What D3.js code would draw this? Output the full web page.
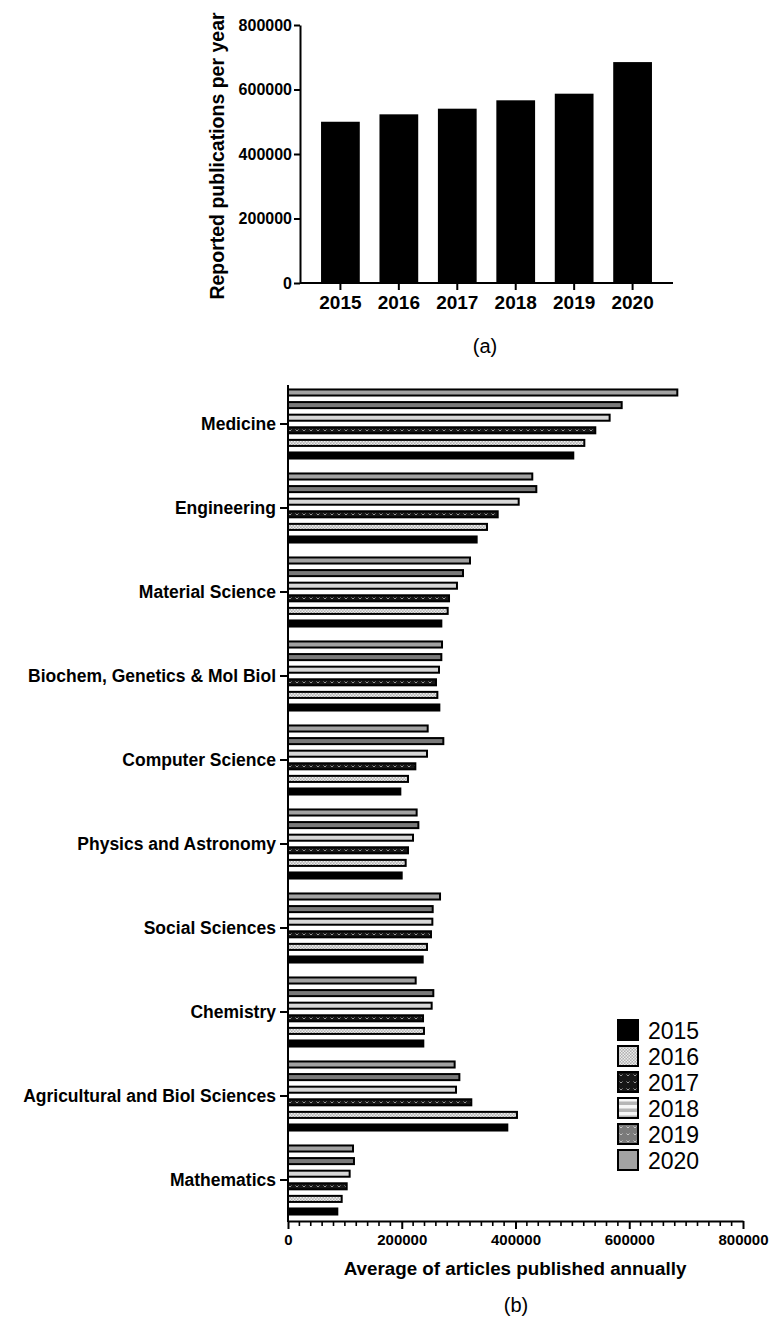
<!DOCTYPE html>
<html>
<head>
<meta charset="utf-8">
<script src="https://cdn.jsdelivr.net/npm/d3@7"></script>
<style>
  html, body { margin: 0; padding: 0; background: #fff; }
  svg { display: block; font-family: "Liberation Sans", Arial, Helvetica, sans-serif; }
</style>
</head>
<body>
<svg id="chart" width="776" height="1319"></svg>
<script>
// ---------- DATA ----------
const years = ["2015", "2016", "2017", "2018", "2019", "2020"];
const totalsPerYear = [500000, 523000, 540500, 566500, 587000, 685000];
const topTicks = [0, 200000, 400000, 600000, 800000];

const categories = [
  "Medicine", "Engineering", "Material Science", "Biochem, Genetics & Mol Biol",
  "Computer Science", "Physics and Astronomy", "Social Sciences", "Chemistry",
  "Agricultural and Biol Sciences", "Mathematics"
];
const v2015 = [501600, 331700, 269600, 266100, 197500, 199900, 236800, 237900, 385600, 86700];
const v2016 = [521000, 349900, 280800, 262600, 211000, 206900, 244400, 239100, 402600, 94400];
const v2017 = [540300, 368700, 283100, 260200, 223900, 211000, 251400, 237400, 322300, 103200];
const v2018 = [565500, 405600, 297100, 265500, 244400, 219800, 253800, 252600, 295400, 108400];
const v2019 = [586700, 436600, 307700, 269600, 273100, 229200, 254400, 255500, 301300, 116000];
const v2020 = [684500, 429500, 320000, 270800, 245600, 226200, 267300, 224500, 293000, 114300];
const bottomTicks = [0, 200000, 400000, 600000, 800000];

const seriesByYear = [v2015, v2016, v2017, v2018, v2019, v2020];

// ---------- SETUP ----------
const svg = d3.select("#chart");
const defs = svg.append("defs");

// patterns
const p16 = defs.append("pattern").attr("id", "p2016").attr("patternUnits", "userSpaceOnUse").attr("width", 3).attr("height", 3);
p16.append("rect").attr("width", 3).attr("height", 3).attr("fill", "#b0b0b0");
p16.append("rect").attr("width", 1.5).attr("height", 1.5).attr("fill", "#eeeeee");
p16.append("rect").attr("x", 1.5).attr("y", 1.5).attr("width", 1.5).attr("height", 1.5).attr("fill", "#eeeeee");

const p17 = defs.append("pattern").attr("id", "p2017").attr("patternUnits", "userSpaceOnUse").attr("width", 7).attr("height", 7);
p17.append("rect").attr("width", 7).attr("height", 7).attr("fill", "#161616");
p17.append("path").attr("d", "M1.5,2.5 l1.5,1.5 l1.5,-1.5").attr("fill", "none").attr("stroke", "#9a9a9a").attr("stroke-width", 1);

const p18 = defs.append("pattern").attr("id", "p2018").attr("patternUnits", "userSpaceOnUse").attr("width", 7).attr("height", 7);
p18.append("rect").attr("width", 7).attr("height", 7).attr("fill", "#f6f6f6");
p18.append("rect").attr("y", 3.5).attr("width", 7).attr("height", 3.5).attr("fill", "#b5b5b5");

const p19 = defs.append("pattern").attr("id", "p2019").attr("patternUnits", "userSpaceOnUse").attr("width", 7).attr("height", 7);
p19.append("rect").attr("width", 7).attr("height", 7).attr("fill", "#7a7a7a");
p19.append("path").attr("d", "M1.5,2.5 l1.5,1.5 l1.5,-1.5").attr("fill", "none").attr("stroke", "#c8c8c8").attr("stroke-width", 1);

const barFills = ["#000000", "url(#p2016)", "url(#p2017)", "#d8d8d8", "url(#p2019)", "#a2a2a2"];
const legendFills = ["#000000", "url(#p2016)", "url(#p2017)", "url(#p2018)", "url(#p2019)", "#a2a2a2"];

// ---------- TOP CHART (a) ----------
const xTop = d3.scaleBand().domain(years).range([300, 673]).paddingInner(0.337).paddingOuter(0.36);
const yTop = d3.scaleLinear().domain([0, 800000]).range([283, 25]);

const gTop = svg.append("g");
gTop.selectAll("rect.tb").data(years).enter().append("rect")
  .attr("class", "tb")
  .attr("x", d => xTop(d))
  .attr("width", xTop.bandwidth())
  .attr("y", (d, i) => yTop(totalsPerYear[i]))
  .attr("height", (d, i) => yTop(0) - yTop(totalsPerYear[i]))
  .attr("fill", "#000");

const yAxisTop = gTop.append("g").attr("transform", "translate(300,0)")
  .call(d3.axisLeft(yTop).tickValues(topTicks).tickFormat(d3.format("d")).tickSize(6).tickSizeOuter(0));
const xAxisTop = gTop.append("g").attr("transform", "translate(0,283)")
  .call(d3.axisBottom(xTop).tickSize(7).tickSizeOuter(0));
[yAxisTop, xAxisTop].forEach(a => {
  a.select(".domain").attr("stroke", "#000").attr("stroke-width", 2);
  a.selectAll(".tick line").attr("stroke", "#000").attr("stroke-width", 2);
  a.selectAll("text").attr("fill", "#000").attr("font-weight", "bold")
    .attr("font-family", "Liberation Sans, Arial, sans-serif");
});
yAxisTop.selectAll("text").attr("font-size", 16).attr("x", -8);
xAxisTop.selectAll("text").attr("font-size", 19).attr("y", 13);
xAxisTop.select(".domain").attr("d", "M300,0H673");

gTop.append("text")
  .attr("transform", "translate(224,156) rotate(-90)")
  .attr("text-anchor", "middle")
  .attr("font-size", 19.5).attr("font-weight", "bold")
  .text("Reported publications per year");

svg.append("text").attr("x", 485).attr("y", 353).attr("text-anchor", "middle")
  .attr("font-size", 20).text("(a)");

// ---------- BOTTOM CHART (b) ----------
const xB = d3.scaleLinear().domain([0, 800000]).range([288, 743]);
const yCat = d3.scaleBand().domain(categories).range([382, 1222]);
const yearOrder = years.slice().reverse(); // 2020 on top
const yYear = d3.scaleBand().domain(yearOrder).range([0, 75.6]).paddingInner(0.52).paddingOuter(0.26);
const groupOffset = (yCat.bandwidth() - 75.6) / 2;

const gB = svg.append("g");
const rows = [];
categories.forEach((c, ci) => {
  years.forEach((yr, yi) => rows.push({ cat: c, year: yr, yi: yi, value: seriesByYear[yi][ci] }));
});

gB.selectAll("rect.hb").data(rows).enter().append("rect")
  .attr("class", "hb")
  .attr("x", xB(0))
  .attr("y", d => yCat(d.cat) + groupOffset + yYear(d.year))
  .attr("width", d => xB(d.value) - xB(0))
  .attr("height", yYear.bandwidth())
  .attr("fill", d => barFills[d.yi])
  .attr("stroke", "#000")
  .attr("stroke-width", 2);

// y axis (categories)
const yAxisB = gB.append("g").attr("transform", "translate(288,0)")
  .call(d3.axisLeft(yCat).tickSize(8).tickSizeOuter(0));
yAxisB.select(".domain").attr("stroke", "#000").attr("stroke-width", 2).attr("d", "M0,385V1222");
yAxisB.selectAll(".tick line").attr("stroke", "#000").attr("stroke-width", 2);
yAxisB.selectAll("text").attr("fill", "#000").attr("font-weight", "bold").attr("font-size", 17.5)
  .attr("x", -12).attr("font-family", "Liberation Sans, Arial, sans-serif");

// x axis minor ticks
const minorTicks = d3.range(0, 800001, 20000).filter(v => v % 200000 !== 0);
gB.append("g").selectAll("line").data(minorTicks).enter().append("line")
  .attr("x1", d => xB(d)).attr("x2", d => xB(d))
  .attr("y1", 1221).attr("y2", 1226)
  .attr("stroke", "#000").attr("stroke-width", 1.6);

const xAxisB = gB.append("g").attr("transform", "translate(0,1221)")
  .call(d3.axisBottom(xB).tickValues(bottomTicks).tickFormat(d3.format("d")).tickSize(8).tickSizeOuter(0));
xAxisB.select(".domain").attr("stroke", "#000").attr("stroke-width", 2);
xAxisB.selectAll(".tick line").attr("stroke", "#000").attr("stroke-width", 2);
xAxisB.selectAll("text").attr("fill", "#000").attr("font-weight", "bold").attr("font-size", 15)
  .attr("y", 13).attr("font-family", "Liberation Sans, Arial, sans-serif");

gB.append("text").attr("x", 515).attr("y", 1275).attr("text-anchor", "middle")
  .attr("font-size", 18.8).attr("font-weight", "bold")
  .text("Average of articles published annually");

svg.append("text").attr("x", 516).attr("y", 1312).attr("text-anchor", "middle")
  .attr("font-size", 20).text("(b)");

// legend
const legend = svg.append("g").attr("transform", "translate(618,1020)");
const lg = legend.selectAll("g").data(years).enter().append("g")
  .attr("transform", (d, i) => `translate(0,${i * 26})`);
lg.append("rect").attr("width", 20).attr("height", 20)
  .attr("fill", (d, i) => legendFills[i]).attr("stroke", "#000").attr("stroke-width", 2);
lg.append("text").attr("x", 30).attr("y", 18.5).attr("font-size", 23).text(d => d);
</script>
</body>
</html>
